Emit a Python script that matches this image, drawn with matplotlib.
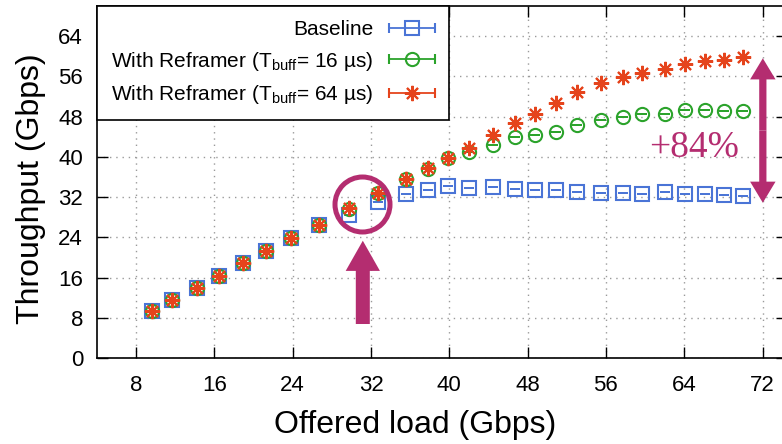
import matplotlib.pyplot as plt
from matplotlib.container import ErrorbarContainer
from matplotlib.legend_handler import HandlerErrorbar

plt.rcParams['font.family'] = ['Liberation Sans', 'DejaVu Sans']
plt.rcParams['mathtext.default'] = 'regular'

# offered load (Gbps) and measured throughput (Gbps)
load = [9.6, 11.7, 14.2, 16.5, 18.9, 21.3, 23.8, 26.7, 29.8, 32.7, 35.6, 37.8, 39.9, 42.0,
        44.5, 46.7, 48.8, 50.9, 53.0, 55.5, 57.7, 59.7, 62.0, 64.1, 66.1, 68.1, 70.0]
baseline = [9.4, 11.5, 14.0, 16.4, 18.8, 21.3, 23.9, 26.4, 28.5, 31.1, 32.7, 33.5, 34.3, 33.9,
            34.1, 33.7, 33.5, 33.5, 33.1, 32.9, 32.8, 32.7, 33.1, 32.7, 32.7, 32.4, 32.3]
reframer_16 = [9.4, 11.5, 14.0, 16.4, 18.8, 21.3, 23.9, 26.4, 29.7, 32.8, 35.5, 37.6, 39.8, 40.9,
               42.3, 43.9, 44.3, 45.0, 46.4, 47.4, 47.9, 48.6, 48.6, 49.3, 49.3, 49.1, 49.1]
reframer_64 = [9.4, 11.5, 14.0, 16.4, 18.8, 21.3, 23.9, 26.4, 29.8, 32.8, 35.6, 37.7, 39.8, 41.8,
               44.4, 46.8, 48.6, 50.7, 52.9, 54.7, 55.8, 56.7, 57.4, 58.4, 59.1, 59.2, 59.8]

labels = ['Baseline',
          r'With Reframer (T$_{buff}$= 16 µs)',
          r'With Reframer (T$_{buff}$= 64 µs)']
colors = ['#4a74d6', '#2ba32b', '#e5441c']
markers = ['s', 'o', (8, 2, 0)]
sizes = [9.5, 9.5, 11]
xticks = [8, 16, 24, 32, 40, 48, 56, 64, 72]
yticks = [0, 8, 16, 24, 32, 40, 48, 56, 64]

mag = '#b42d70'

fig = plt.figure(figsize=(7.82, 4.44), dpi=100)
ax = fig.add_axes([0.124, 0.1937, 0.8824, 0.7928])

handles = []
for ys, lab, c, m, s in zip([baseline, reframer_16, reframer_64], labels, colors, markers, sizes):
    ax.errorbar(load, ys, yerr=0.0, fmt='none', ecolor=c, elinewidth=1.3, capsize=3.5,
                capthick=1.3, zorder=3)
    ax.plot(load, ys, ls='none', marker=m, ms=s, mfc='none', mec=c, mew=1.5, zorder=3)
    # proxy for gnuplot-style legend sample
    h = ax.errorbar([float('nan')], [float('nan')], xerr=[0], fmt='', ls='none', marker=m,
                    ms=s, mfc='none', mec=c, mew=1.5, ecolor=c, elinewidth=1.3,
                    capsize=3.5, capthick=1.3, label=lab)
    handles.append(h)

ax.set_xlim(4, 74.5)
ax.set_ylim(0, 70)
ax.set_xticks(xticks)
ax.set_yticks(yticks)
ax.tick_params(direction='in', length=8, width=1, top=True, right=True, labelsize=16)
ax.tick_params(axis='y', pad=10)
ax.tick_params(axis='x', pad=12)
ax.grid(True, color='#9a9a9a', linestyle=(0, (1, 3.5)), linewidth=1)
for sp in ax.spines.values():
    sp.set_linewidth(1.2)

ax.set_xlabel('Offered load (Gbps)', fontsize=23)
ax.set_ylabel('Throughput (Gbps)', fontsize=23)
ax.xaxis.set_label_coords(0.461, -0.19)
ax.xaxis.label.set_va('center')
ax.yaxis.set_label_coords(-0.095, 0.48)
ax.yaxis.label.set_va('center')

leg = ax.legend(handles, labels, loc='upper left', bbox_to_anchor=(0, 1), borderaxespad=0,
                fontsize=15, markerfirst=False, fancybox=False, edgecolor='black',
                framealpha=1, handlelength=2.2, handletextpad=0.75, borderpad=0.68,
                labelspacing=0.5, numpoints=1,
                handler_map={ErrorbarContainer: HandlerErrorbar(xerr_size=1.1)})
leg.get_frame().set_linewidth(1.2)
leg.set_zorder(6)

# annotations
ax.plot([31.1], [30.6], 'o', ms=39.6, mfc='none', mec=mag, mew=3.6, zorder=5)
ax.arrow(31.16, 6.76, 0, 23.32 - 6.76, width=1.43, head_width=3.5, head_length=6.0,
         length_includes_head=True, color=mag, lw=0, zorder=5)
mid = (59.6 + 30.87) / 2
ax.arrow(72.03, mid, 0, 59.6 - mid, width=0.74, head_width=2.6, head_length=4.2,
         length_includes_head=True, color=mag, lw=0, zorder=5, clip_on=False)
ax.arrow(72.03, mid, 0, 30.87 - mid, width=0.74, head_width=2.6, head_length=4.2,
         length_includes_head=True, color=mag, lw=0, zorder=5, clip_on=False)
ax.text(65.0, 41.75, '+84%', fontsize=27, color=mag, family='Liberation Serif',
        ha='center', va='center')

fig.savefig('out.png', dpi=100)
